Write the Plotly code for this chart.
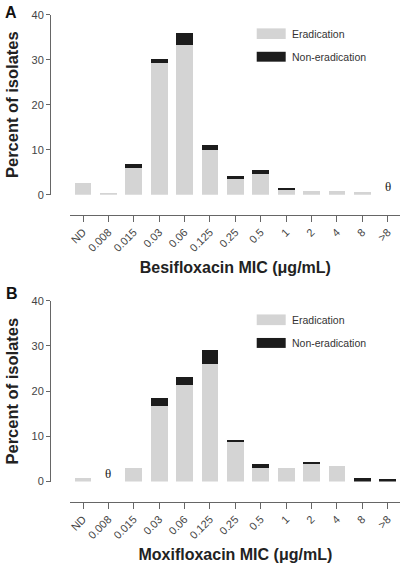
import plotly.graph_objects as go

mic_labels = ['ND', '0.008', '0.015', '0.03', '0.06', '0.125', '0.25', '0.5', '1', '2', '4', '8', '>8']
besi_erad = [2.7, 0.3, 5.9, 29.2, 33.2, 9.9, 3.6, 4.5, 1.0, 0.8, 0.8, 0.5, 0]
besi_non = [0, 0, 0.9, 0.9, 2.7, 1.1, 0.5, 1.0, 0.6, 0, 0, 0, 0]
moxi_erad = [0.7, 0, 3.1, 16.7, 21.3, 26.1, 8.7, 3.1, 2.9, 4.0, 3.4, 0, 0]
moxi_non = [0, 0, 0, 1.7, 1.9, 3.1, 0.5, 0.9, 0, 0.4, 0, 0.8, 0.5]
y_ticks = [0, 10, 20, 30, 40]
besi_none = ['>8']      # MIC bins with no isolates (θ)
moxi_none = ['0.008']

GRAY = '#d4d4d4'
BLACK = '#1c1c1c'
AXC = '#666666'
FONT = 'Liberation Sans, Arial, sans-serif'
W, H = 408, 568

fig = go.Figure()
panels = [
    ('x', 'y', besi_erad, besi_non),
    ('x2', 'y2', moxi_erad, moxi_non),
]
for xa, ya, er, ne in panels:
    fig.add_trace(go.Bar(x=mic_labels, y=er, xaxis=xa, yaxis=ya, name='Eradication',
                         marker=dict(color=GRAY, line=dict(width=0)), showlegend=False))
    fig.add_trace(go.Bar(x=mic_labels, y=ne, xaxis=xa, yaxis=ya, name='Non-eradication',
                         marker=dict(color=BLACK, line=dict(width=0)), showlegend=False))

xdom = [70.3 / W, 400.4 / W]


def xaxis_cfg(pos_px, title):
    return dict(domain=xdom, anchor='free', position=1 - pos_px / H, type='category',
                categoryorder='array', categoryarray=mic_labels, range=[-0.5, 12.5],
                showline=True, linecolor=AXC, linewidth=1, ticks='outside', ticklen=6,
                tickcolor=AXC, tickwidth=1, tickangle=-45, showgrid=False, zeroline=False,
                automargin=False,
                tickfont=dict(family=FONT, size=11, color='#444444'),
                title=dict(text=title, standoff=8,
                           font=dict(family=FONT, size=16, color='#222222')))


def yaxis_cfg(top_px, bot_px):
    return dict(domain=[1 - bot_px / H, 1 - top_px / H], anchor='free', position=50 / W,
                range=[0, 40], tickvals=y_ticks, showline=True, linecolor=AXC, linewidth=1,
                ticks='outside', ticklen=4, tickcolor=AXC, tickwidth=1, showgrid=False,
                zeroline=False, automargin=False,
                tickfont=dict(family=FONT, size=11, color='#444444'),
                title=dict(text='<b>Percent of isolates</b>', standoff=7,
                           font=dict(family=FONT, size=16.5, color='#222222')))


fig.update_layout(
    width=W, height=H, margin=dict(l=0, r=0, t=0, b=0, autoexpand=False),
    paper_bgcolor='white', plot_bgcolor='white', barmode='stack', bargap=0.34,
    xaxis=xaxis_cfg(214.5, '<b>Besifloxacin MIC (μg/mL)</b>'),
    yaxis=yaxis_cfg(14.7, 194.7),
    xaxis2=xaxis_cfg(501.7, '<b>Moxifloxacin MIC (μg/mL)</b>'),
    yaxis2=yaxis_cfg(300.7, 481.6),
    font=dict(family=FONT),
)

shapes = []
annotations = []
for xa, ya in [('x', 'y'), ('x2', 'y2')]:
    for (y0, y1, col, label) in [(0.865, 0.924, GRAY, 'Eradication'),
                                 (0.739, 0.794, BLACK, 'Non-eradication')]:
        shapes.append(dict(type='rect', xref=f'{xa} domain', yref=f'{ya} domain',
                           x0=0.5647, x1=0.6525, y0=y0, y1=y1,
                           fillcolor=col, line=dict(width=0)))
        annotations.append(dict(xref=f'{xa} domain', yref=f'{ya} domain', x=0.665,
                                y=(y0 + y1) / 2, text=label, showarrow=False,
                                xanchor='left', yanchor='middle',
                                font=dict(family=FONT, size=10.5, color='#333333')))

# theta markers (no isolates) - use category index on the category axis
for xa, ya, cats in [('x', 'y', besi_none), ('x2', 'y2', moxi_none)]:
    for c in cats:
        annotations.append(dict(xref=xa, yref=ya, x=mic_labels.index(c), y=0, text='θ',
                                showarrow=False, yanchor='bottom', yshift=-1,
                                font=dict(family='Liberation Serif, serif', size=13,
                                          color='#222222')))
# panel letters
annotations.append(dict(xref='paper', yref='paper', x=11 / W, y=1 - 12.5 / H, text='<b>A</b>',
                        showarrow=False, xanchor='center', yanchor='middle',
                        font=dict(family=FONT, size=16, color='#111111')))
annotations.append(dict(xref='paper', yref='paper', x=12 / W, y=1 - 293 / H, text='<b>B</b>',
                        showarrow=False, xanchor='center', yanchor='middle',
                        font=dict(family=FONT, size=16, color='#111111')))

fig.update_layout(shapes=shapes, annotations=annotations)
fig.write_html('out.html', config={'displayModeBar': False},
               post_script="document.body.style.margin='0';document.body.style.overflow='hidden';")
